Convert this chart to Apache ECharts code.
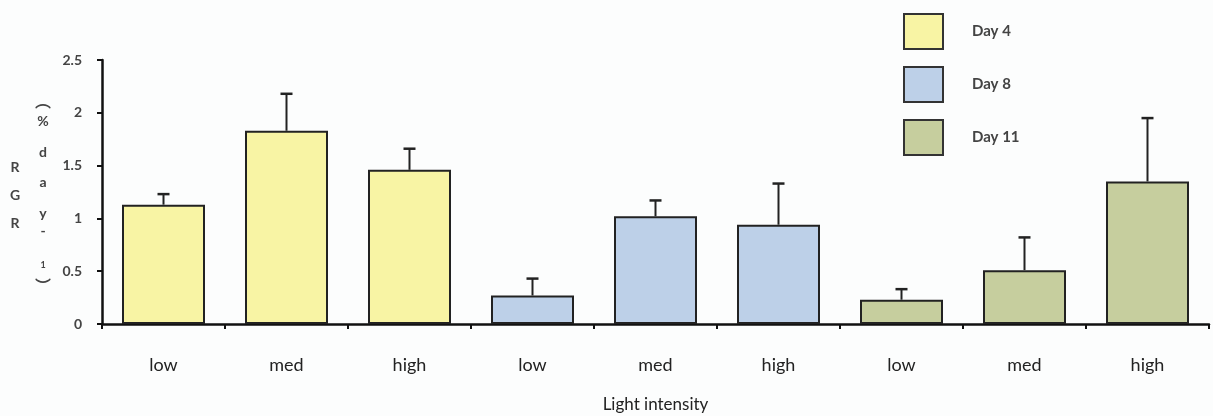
<!DOCTYPE html>
<html><head><meta charset="utf-8">
<script src="https://cdn.jsdelivr.net/npm/echarts@6/dist/echarts.min.js"></script>
<style>html,body{margin:0;padding:0;background:#fcfdfd}#c{width:1213px;height:416px}</style>
</head><body><div id="c"></div>
<script>
var categories = ['low','med','high','low','med','high','low','med','high'];
var seriesNames = ['Day 4','Day 8','Day 11'];
var day4 = [1.13, 1.83, 1.46];
var day8 = [0.27, 1.02, 0.94];
var day11 = [0.23, 0.51, 1.35];
var err4 = [0.10, 0.35, 0.20];
var err8 = [0.16, 0.15, 0.39];
var err11 = [0.10, 0.31, 0.60];
var yTicks = [0, 0.5, 1, 1.5, 2, 2.5];

var colors = ['#f8f4a4', '#bdd0e8', '#c6ce9e'];
var groups = [day4, day8, day11];
var errs = [err4, err8, err11];
var font = 'Lato, "Open Sans", sans-serif';

function place(vals, g) {
  var arr = categories.map(function(){ return '-'; });
  vals.forEach(function(v, i){ arr[g*3+i] = v; });
  return arr;
}
var errData = [];
groups.forEach(function(vals, g){
  vals.forEach(function(v, i){ errData.push([g*3+i, v, v + errs[g][i]]); });
});

var series = groups.map(function(vals, g){
  return {
    name: seriesNames[g], type: 'bar', data: place(vals, g),
    barWidth: 83, barGap: '-100%',
    itemStyle: { color: colors[g], borderColor: '#222', borderWidth: 2 },
    silent: true
  };
});
series.push({
  type: 'custom', silent: true, z: 1,
  data: errData,
  renderItem: function(params, api){
    var x = api.value(0);
    var p0 = api.coord([x, api.value(1)]);
    var p1 = api.coord([x, api.value(2)]);
    var s = {stroke: '#222', lineWidth: 2};
    return {type: 'group', children: [
      {type: 'line', shape: {x1: p0[0], y1: p0[1], x2: p1[0], y2: p1[1]}, style: s},
      {type: 'line', shape: {x1: p1[0]-6, y1: p1[1], x2: p1[0]+6, y2: p1[1]}, style: {stroke:'#222', lineWidth: 2.5}}
    ]};
  }
});

var graphics = [];
var rgr = ['R','G','R'];
var rgrY = [167, 195, 223];
rgr.forEach(function(ch, i){
  graphics.push({type:'text', x: 15, y: rgrY[i], style:{text: ch, font: 'bold 14px ' + font, fill:'#444', textAlign:'center', textVerticalAlign:'middle'}});
});
var unit = [['\uFE35',101,true],['%',121],['d',152],['a',182],['y',213],['-',231],['1',265],['\uFE36',286,true]];
unit.forEach(function(u){
  var f = u[2] ? 'bold 16px "Noto Sans CJK SC"' : ((u[0]==='1' ? 'bold 9px ' : 'bold 14px ') + font);
  graphics.push({type:'text', x: 43, y: u[1],
    style:{text: u[0], font: f, fill:'#444', textAlign:'center', textVerticalAlign:'middle'}});
});

var chart = echarts.init(document.getElementById('c'));
chart.setOption({
  backgroundColor: '#fcfdfd',
  animation: false,
  textStyle: { fontFamily: font },
  grid: { left: 102, right: 4, top: 60, bottom: 92, containLabel: false, outerBoundsMode: 'none' },
  legend: {
    orient: 'vertical', left: 903, top: 13, padding: 0,
    itemWidth: 39, itemHeight: 35, itemGap: 16,
    icon: 'rect', data: seriesNames,
    itemStyle: { borderColor: '#333', borderWidth: 2 },
    textStyle: { fontSize: 15, fontWeight: 'bold', color: '#444', padding: [0,0,0,24], fontFamily: font },
    selectedMode: false
  },
  xAxis: {
    type: 'category', data: categories,
    name: 'Light intensity', nameLocation: 'middle', nameGap: 72,
    nameTextStyle: { fontSize: 17, color: '#222' },
    axisLine: { lineStyle: { color: '#111', width: 2.5 } },
    axisTick: { show: true, alignWithLabel: false, length: 5, lineStyle: { color: '#111', width: 2 } },
    axisLabel: { fontSize: 18, color: '#222', margin: 32 }
  },
  yAxis: {
    type: 'value', min: 0, max: 2.5, interval: 0.5,
    axisLine: { show: true, lineStyle: { color: '#111', width: 2.5 } },
    axisTick: { show: true, length: 5, lineStyle: { color: '#111', width: 2 } },
    splitLine: { show: false },
    axisLabel: { fontSize: 14, fontWeight: 'bold', color: '#444', margin: 20,
      formatter: function(v){ return yTicks.indexOf(v) >= 0 ? String(v) : ''; } }
  },
  graphic: graphics,
  series: series
});
</script></body></html>
